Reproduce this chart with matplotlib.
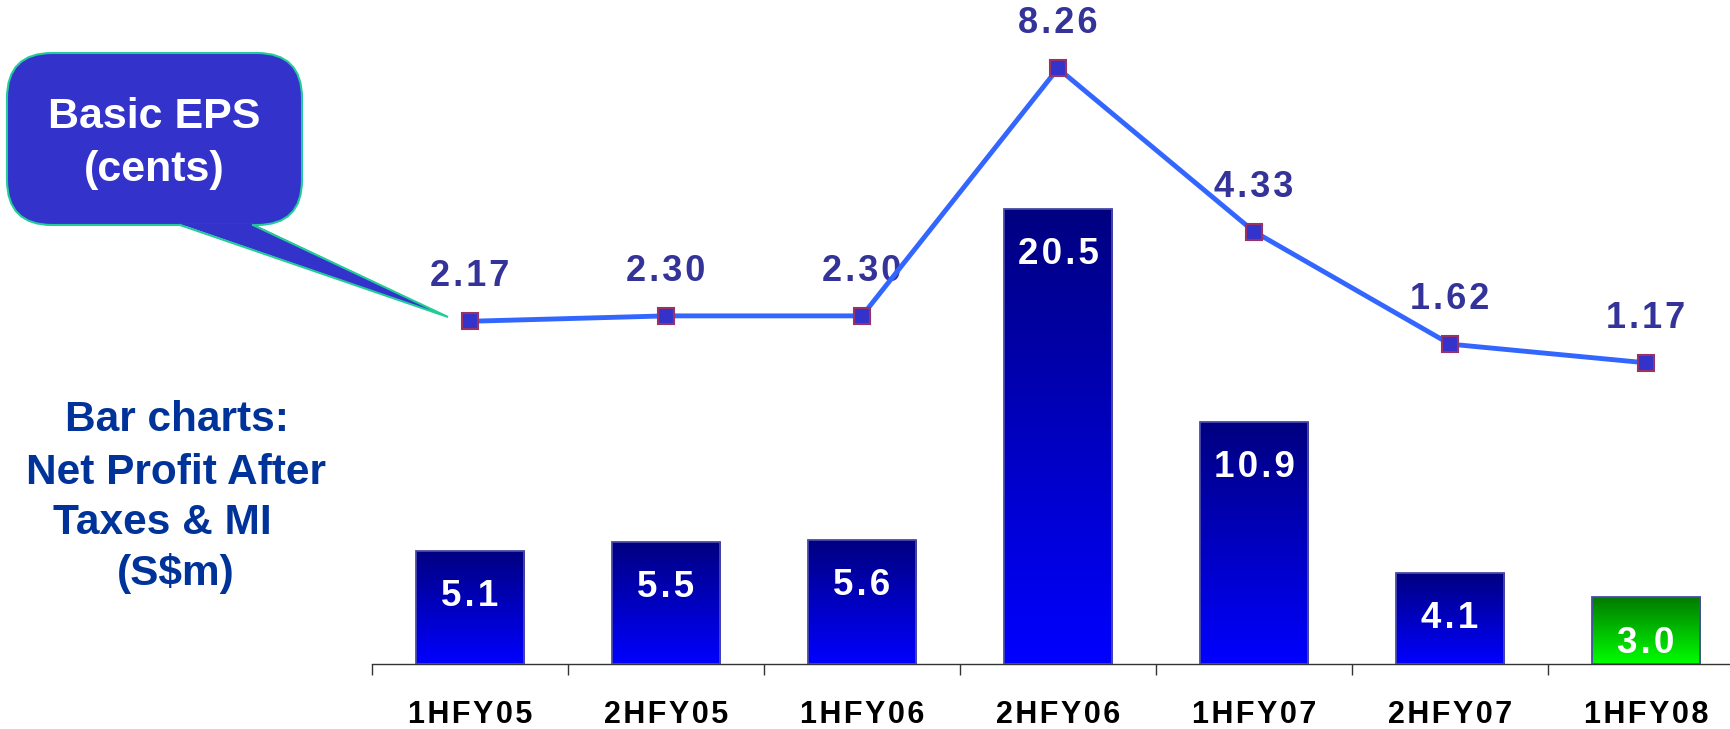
import numpy as np
import matplotlib
matplotlib.use('Agg')
import matplotlib.pyplot as plt
from matplotlib.colors import LinearSegmentedColormap
from matplotlib.patches import FancyBboxPatch, Polygon

plt.rcParams['font.family'] = ['Liberation Sans', 'DejaVu Sans']

periods = ['1HFY05', '2HFY05', '1HFY06', '2HFY06', '1HFY07', '2HFY07', '1HFY08']
profit = [5.1, 5.5, 5.6, 20.5, 10.9, 4.1, 3.0]          # S$m, bars
eps = [2.17, 2.30, 2.30, 8.26, 4.33, 1.62, 1.17]         # cents, line
profit_labels = ['5.1', '5.5', '5.6', '20.5', '10.9', '4.1', '3.0']
eps_labels = ['2.17', '2.30', '2.30', '8.26', '4.33', '1.62', '1.17']


def spaced(s):
    # the slide font has wide tracking; fake it with hair spaces
    return '\u200a'.join(s)


W, H = 1731, 729
fig = plt.figure(figsize=(W / 100, H / 100), dpi=100)
fig.patch.set_facecolor('white')

# main axes: bottom axis line at y=664px, categories 196px wide starting at x=372px
ax = fig.add_axes([372 / W, (H - 664) / H, 7 * 196 / W, 664 / H])
ax.patch.set_alpha(0)
x = np.arange(len(periods))
bw = 0.556

blue_cmap = LinearSegmentedColormap.from_list('bl', ['#000080', '#0000ff'])
green_cmap = LinearSegmentedColormap.from_list('gr', ['#007a00', '#00ff00'])

bars = ax.bar(x, profit, width=bw, facecolor='none', edgecolor='#4a4aa8',
              linewidth=1.3, zorder=3)
grad = np.linspace(1, 0, 256).reshape(-1, 1)
for i, b in enumerate(bars):
    cm = green_cmap if i == len(bars) - 1 else blue_cmap
    im = ax.imshow(grad, cmap=cm, aspect='auto', origin='lower',
                   extent=[b.get_x(), b.get_x() + bw, 0, b.get_height()],
                   zorder=2)
    im.set_clip_path(b)
    ax.annotate(spaced(profit_labels[i]), (x[i], profit[i]), xytext=(0, -33),
                textcoords='offset points', ha='center', va='center',
                color='white', fontsize=26.5, fontweight='bold', zorder=4)

ax.set_xlim(-0.5, len(periods) - 0.5)
ax.set_ylim(0, 664 / 22.2)
for s in ['top', 'left', 'right']:
    ax.spines[s].set_visible(False)
ax.spines['bottom'].set_color('#333333')
ax.spines['bottom'].set_linewidth(1)
ax.set_yticks([])
ax.set_xticks(x, [spaced(p) for p in periods])
ax.set_xticks(np.arange(-0.5, len(periods)), minor=True)
ax.tick_params(axis='x', which='major', length=0, pad=26)
ax.tick_params(axis='x', which='minor', length=8, width=1, color='#333333',
               direction='out')
for lbl in ax.get_xticklabels():
    lbl.set_fontsize(22)
    lbl.set_fontweight('bold')
    lbl.set_color('black')

# EPS line on twin axis
ax2 = ax.twinx()
ax2.set_ylim((411.4 - 664) / 41.53, 411.4 / 41.53)
ax2.plot(x, eps, color='#3366ff', linewidth=3.5, marker='s', markersize=11,
         markerfacecolor='#3333cc', markeredgecolor='#993366',
         markeredgewidth=1.5, zorder=5)
for i, v in enumerate(eps):
    ax2.annotate(spaced(eps_labels[i]), (x[i], v), xytext=(0, 32),
                 textcoords='offset points', ha='center', va='center',
                 color='#333399', fontsize=26, fontweight='bold')
ax2.set_yticks([])
for s in ax2.spines.values():
    s.set_visible(False)

# overlay in pixel coordinates for the callout and side caption
ov = fig.add_axes([0, 0, 1, 1])
ov.set_xlim(0, W)
ov.set_ylim(H, 0)
ov.axis('off')
ov.patch.set_alpha(0)

fill = '#3333cc'
edge = '#22cc99'
box = FancyBboxPatch((7, 53), 295, 172,
                     boxstyle='round,pad=0,rounding_size=45',
                     facecolor=fill, edgecolor=edge, linewidth=1.5)
ov.add_patch(box)
tail = Polygon([(180, 224), (253, 224), (448, 317)], closed=True,
               facecolor=fill, edgecolor='none')
ov.add_patch(tail)
ov.plot([180, 448, 253], [225, 317, 225], color=edge, linewidth=1.5,
        solid_joinstyle='miter')
ov.text(154, 117, 'Basic EPS', ha='center', va='center', color='white',
        fontsize=31, fontweight='bold')
ov.text(154, 170, '(cents)', ha='center', va='center', color='white',
        fontsize=31, fontweight='bold')

caption = ['Bar charts:', 'Net Profit After', 'Taxes & MI', '(S$m)']
cap_x = [177, 176, 162, 176]
cap_y = [420, 473, 523, 573]
for t, cx, cy in zip(caption, cap_x, cap_y):
    ov.text(cx, cy, t, ha='center', va='center', color='#003399',
            fontsize=30.5, fontweight='bold')

fig.savefig('out.png', dpi=100, facecolor='white')
